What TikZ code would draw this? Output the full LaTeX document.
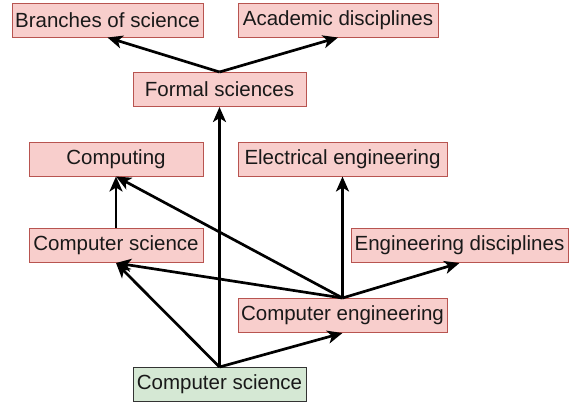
\documentclass[tikz,border=0pt]{standalone}
\usepackage{fontspec}
\setmainfont{Liberation Sans}
\usetikzlibrary{arrows.meta}
\definecolor{redfill}{HTML}{F8CECC}
\definecolor{redline}{HTML}{B85450}
\definecolor{greenfill}{HTML}{D5E8D4}
\definecolor{greenline}{HTML}{333333}
\tikzset{
  box/.style={draw=redline, fill=redfill, line width=1pt, minimum height=34pt, inner sep=0pt,
    font=\fontsize{20.5}{24}\selectfont, text=black!90},
  gbox/.style={box, draw=greenline, fill=greenfill},
  arr/.style={-{Stealth[length=15pt,width=13pt,inset=4pt]}, line width=2.7pt, black}
}
\begin{document}
\begin{tikzpicture}[x=1pt,y=-1pt]
\useasboundingbox (0,0) rectangle (574,405);
\node[box, minimum width=191pt] (bos) at (107.5,20) {Branches of science};
\node[box, minimum width=200pt] (acad) at (338,20) {Academic disciplines};
\node[box, minimum width=173pt] (formal) at (219.5,89.5) {Formal sciences};
\node[box, minimum width=174pt] (comp) at (116,159) {Computing};
\node[box, minimum width=209pt] (ee) at (342.5,159) {Electrical engineering};
\node[box, minimum width=174pt] (csr) at (116,245.5) {Computer science};
\node[box, minimum width=217pt] (engd) at (459.5,245.5) {Engineering disciplines};
\node[box, minimum width=209pt] (ce) at (342.5,315.5) {Computer engineering};
\node[gbox, minimum width=173pt] (csg) at (219.5,384.5) {Computer science};

\draw[arr] (formal.north) -- (bos.south);
\draw[arr] (formal.north) -- (acad.south);
\draw[arr] (csg.north) -- (formal.south);
\draw[arr] (csg.north) -- (csr.south);
\draw[arr] (csg.north) -- (ce.south);
\draw[arr] (csr.north) -- (comp.south);
\draw[arr] (ce.north) -- (csr.south);
\draw[arr] (ce.north) -- (comp.south);
\draw[arr] (ce.north) -- (ee.south);
\draw[arr] (ce.north) -- (engd.south);
\end{tikzpicture}
\end{document}
